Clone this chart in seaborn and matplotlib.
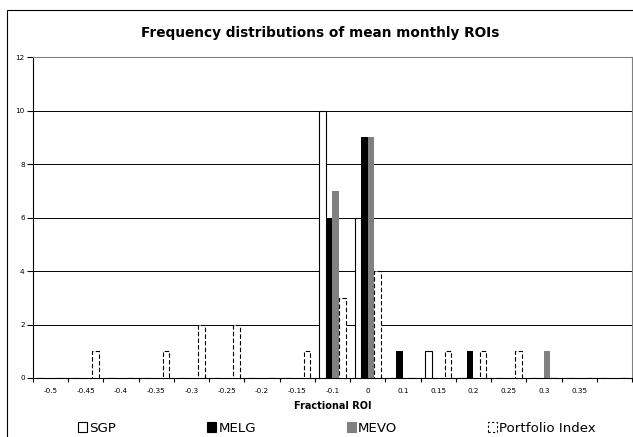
import numpy as np
import pandas as pd
import matplotlib
matplotlib.use("Agg")
import matplotlib.pyplot as plt
from matplotlib.patches import Patch, Rectangle
import seaborn as sns

# bin labels as printed under the category axis (last bin has no label)
bins = ["-0.5", "-0.45", "-0.4", "-0.35", "-0.3", "-0.25", "-0.2", "-0.15",
        "-0.1", "0", "0.1", "0.15", "0.2", "0.25", "0.3", "0.35", ""]
series = ["SGP", "MELG", "MEVO", "Portfolio Index"]

sgp = [0, 0, 0, 0, 0, 0, 0, 0, 10, 6, 0, 1, 0, 0, 0, 0, 0]
melg = [0, 0, 0, 0, 0, 0, 0, 0, 6, 9, 1, 0, 1, 0, 0, 0, 0]
mevo = [0, 0, 0, 0, 0, 0, 0, 0, 7, 9, 0, 0, 0, 0, 1, 0, 0]
portfolio = [0, 1, 0, 1, 2, 2, 0, 1, 3, 4, 0, 1, 1, 1, 0, 0, 0]

yticks = [0, 2, 4, 6, 8, 10, 12]

df = pd.DataFrame({
    "bin": bins * 4,
    "series": [s for s in series for _ in bins],
    "count": sgp + melg + mevo + portfolio,
})

sns.set_theme(style="white")
plt.rcParams['font.family'] = ['DejaVu Sans']
plt.rcParams['text.color'] = 'black'
plt.rcParams['axes.labelcolor'] = 'black'
plt.rcParams['xtick.color'] = 'black'
plt.rcParams['ytick.color'] = 'black'

fig = plt.figure(figsize=(6.33, 4.37), dpi=100)
ax = fig.add_axes([33 / 633, 1 - 378 / 437, (632 - 33) / 633, (378 - 57.3) / 437])

fills = ["white", "black", "#808080", "white"]
sns.barplot(data=df, x="bin", y="count", hue="series", order=bins,
            hue_order=series, palette=fills, width=0.74, saturation=1,
            legend=False, ax=ax)

# style each series like the original spreadsheet chart
for i, cont in enumerate(ax.containers):
    for bar in cont:
        bar.set_zorder(3)
        if i == 0:
            bar.set_edgecolor("black")
            bar.set_linewidth(0.8)
        elif i == 3:
            bar.set_edgecolor("black")
            bar.set_linewidth(0.8)
            bar.set_linestyle((0, (4, 2)))
        else:
            bar.set_edgecolor("none")
            bar.set_linewidth(0)

ax.set_xlim(-0.5, len(bins) - 0.5)
ax.set_ylim(0, 12)
ax.set_yticks(yticks)
ax.set_yticklabels([str(v) for v in yticks], fontsize=5.2)
ax.set_xticks(np.arange(len(bins)))
ax.set_xticklabels(bins, fontsize=5.2)
ax.set_xticks(np.arange(-0.5, len(bins)), minor=True)
ax.tick_params(axis="x", which="major", length=0, pad=7)
ax.tick_params(axis="x", which="minor", length=3, width=0.8, color="black",
               direction="out", bottom=True)
ax.tick_params(axis="y", length=4, width=0.8, color="black", direction="out",
               left=True, pad=2)

ax.yaxis.grid(True, color="black", linewidth=0.7, zorder=0)
ax.set_axisbelow(True)

for side in ["left", "bottom"]:
    ax.spines[side].set_color("black")
    ax.spines[side].set_linewidth(0.8)
for side in ["top", "right"]:
    ax.spines[side].set_color("#808080")
    ax.spines[side].set_linewidth(0.8)

ax.set_xlabel("Fractional ROI", fontsize=7, fontweight="bold", labelpad=5)
ax.set_ylabel("")

fig.text(320 / 633, 1 - 33 / 437, "Frequency distributions of mean monthly ROIs",
         ha="center", va="center", fontsize=9.8, fontweight="bold")

# outer chart border
fig.add_artist(Rectangle((7 / 633, -0.1), 1.0, 1.1 - 10 / 437,
                         transform=fig.transFigure, fill=False,
                         edgecolor="black", linewidth=0.8))

handles = [
    Patch(facecolor="white", edgecolor="black", linewidth=0.8),
    Patch(facecolor="black", edgecolor="black", linewidth=0.8),
    Patch(facecolor="#808080", edgecolor="#808080", linewidth=0.8),
    Patch(facecolor="white", edgecolor="black", linewidth=0.8, linestyle=(0, (2, 2))),
]
fig.legend(handles, series, loc="center", bbox_to_anchor=(337 / 633, 1 - 428 / 437),
           ncol=4, frameon=False, fontsize=9.6, handlelength=0.7, handleheight=0.7,
           handletextpad=0.15, columnspacing=6.8, borderpad=0)

fig.savefig("out.png", dpi=100)
